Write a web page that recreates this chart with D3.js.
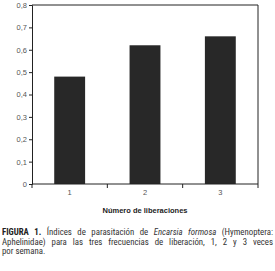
<!DOCTYPE html>
<html><head><meta charset="utf-8">
<script src="https://cdn.jsdelivr.net/npm/d3@7"></script>
<style>
body{margin:0;background:#fff;width:275px;height:271px;overflow:hidden;position:relative}
#cap{position:absolute;left:2px;top:228px;width:271px;font-family:"Liberation Sans Narrow","Arial Narrow","Roboto Condensed",sans-serif;font-size:8.8px;line-height:9.6px;color:#333;}
#cap .j{text-align:justify;text-align-last:justify;white-space:nowrap}
#cap b{color:#222}
</style></head><body>
<svg id="chart" width="275" height="228" style="display:block"></svg>
<div id="cap"><div class="j"><b>FIGURA 1.</b> Índices de parasitación de <i>Encarsia formosa</i> (Hymenoptera:</div><div class="j">Aphelinidae) para las tres frecuencias de liberación, 1, 2 y 3 veces</div><div>por semana.</div></div>
<script>
const categories = ["1","2","3"];
const values = [0.48, 0.62, 0.66];
const yTicks = [0,0.1,0.2,0.3,0.4,0.5,0.6,0.7,0.8];
const yTickLabels = ["0","0,1","0,2","0,3","0,4","0,5","0,6","0,7","0,8"];
const xTitle = "Número de liberaciones";

const svg = d3.select("#chart");
const m = {l:32, r:258, t:5, b:184};
const xb = d3.scaleBand().domain(categories).range([m.l, m.r]);
const y = d3.scaleLinear().domain([0,0.8]).range([m.b, m.t]);
const barW = xb.bandwidth()*0.41;

svg.selectAll("rect.bar").data(values).enter().append("rect")
  .attr("x",(d,i)=>xb(categories[i]) + xb.bandwidth()/2 - barW/2)
  .attr("width",barW)
  .attr("y",d=>y(d)).attr("height",d=>y(0)-y(d))
  .attr("fill","#282828");

svg.append("path").attr("d",`M${m.l},${m.t}H${m.r}V${m.b}`).attr("fill","none").attr("stroke","#222").attr("stroke-width",1);

const yAxis = svg.append("g").attr("transform",`translate(${m.l},0)`)
  .call(d3.axisLeft(y).tickValues(yTicks).tickFormat((d,i)=>yTickLabels[i]).tickSize(3).tickPadding(2));
yAxis.select(".domain").attr("stroke","#222");
yAxis.selectAll("line").attr("stroke","#222");
yAxis.selectAll("text").attr("font-family","Liberation Sans Narrow, Arial Narrow, sans-serif").attr("font-size","7.5px").attr("fill","#555");

const xAxisG = svg.append("g").attr("transform",`translate(0,${m.b})`);
xAxisG.append("line").attr("x1",m.l).attr("x2",m.r).attr("stroke","#222");
const bounds = categories.map(c=>xb(c)+xb.bandwidth()).concat([m.l]);
xAxisG.selectAll("line.t").data(bounds).enter().append("line")
  .attr("x1",d=>d).attr("x2",d=>d).attr("y1",0).attr("y2",4).attr("stroke","#222");
xAxisG.selectAll("text").data(categories).enter().append("text")
  .attr("x",d=>xb(d)+xb.bandwidth()/2).attr("y",11)
  .attr("text-anchor","middle")
  .attr("font-family","Liberation Sans Narrow, Arial Narrow, sans-serif").attr("font-size","7.5px").attr("fill","#555")
  .text(d=>d);

svg.append("text").attr("x",145).attr("y",213).attr("text-anchor","middle")
  .attr("font-family","Liberation Sans Narrow, Arial Narrow, sans-serif").attr("font-weight","bold").attr("font-size","7.5px").attr("fill","#222")
  .text(xTitle);
</script>
</body></html>
